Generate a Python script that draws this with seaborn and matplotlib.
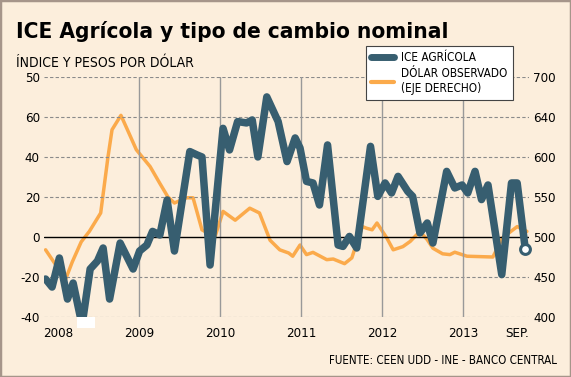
import pandas as pd
import seaborn as sns
import matplotlib
matplotlib.use('Agg')
import matplotlib.pyplot as plt
from matplotlib.patches import Rectangle
from matplotlib.lines import Line2D

# ICE agrícola (eje izquierdo), fechas en años decimales
ice_fecha = [2007.85, 2007.93, 2008.02, 2008.12, 2008.19, 2008.30, 2008.40, 2008.49, 2008.56, 2008.64,
             2008.77, 2008.93, 2009.01, 2009.10, 2009.17, 2009.26, 2009.35, 2009.44, 2009.63, 2009.72,
             2009.78, 2009.88, 2010.04, 2010.12, 2010.22, 2010.33, 2010.40, 2010.47, 2010.58, 2010.72,
             2010.83, 2010.93, 2010.99, 2011.07, 2011.15, 2011.23, 2011.33, 2011.46, 2011.52, 2011.60,
             2011.69, 2011.86, 2011.95, 2012.04, 2012.12, 2012.20, 2012.32, 2012.38, 2012.47, 2012.56,
             2012.63, 2012.80, 2012.90, 2012.99, 2013.06, 2013.15, 2013.23, 2013.31, 2013.48, 2013.60,
             2013.67, 2013.77]
ice_valor = [-21, -25, -10.5, -31, -23, -44, -16, -12, -5.5, -31,
             -3, -16, -7, -4, 2.8, 1, 18.5, -7, 42.7, 41,
             40, -14, 54.3, 43.5, 57.7, 57, 58.5, 40, 70, 57.7,
             37.7, 49.5, 44.5, 27.8, 27, 16, 46, -4, -4.7, 0.3,
             -5.5, 45.3, 20.3, 27, 22, 30.3, 22.8, 20.3, 2, 7,
             -3, 32.8, 24.5, 26, 22, 32.8, 18.7, 26, -18.8, 27,
             27, -6]

# dólar observado (eje derecho)
dolar_fecha = [2007.85, 2007.96, 2008.10, 2008.18, 2008.29, 2008.39, 2008.53, 2008.62, 2008.67, 2008.78,
               2008.86, 2008.97, 2009.14, 2009.26, 2009.36, 2009.44, 2009.59, 2009.67, 2009.78, 2009.94,
               2010.04, 2010.19, 2010.37, 2010.49, 2010.62, 2010.74, 2010.85, 2010.90, 2010.99, 2011.07,
               2011.15, 2011.32, 2011.40, 2011.54, 2011.63, 2011.70, 2011.76, 2011.81, 2011.88, 2011.94,
               2012.06, 2012.14, 2012.26, 2012.35, 2012.47, 2012.56, 2012.63, 2012.75, 2012.84, 2012.90,
               2013.05, 2013.37, 2013.49, 2013.67, 2013.79]
dolar_valor = [484, 467.5, 448, 469, 494, 507, 530, 600, 634, 652,
               634, 609, 588, 567, 550, 542.5, 549, 549, 509, 500,
               532, 521, 536, 530, 496, 484, 480, 476, 490, 478,
               480.8, 471.7, 472.5, 466.7, 474, 496, 513, 511, 509, 517.5,
               499, 484, 488, 494.5, 507, 496.7, 486, 479, 478, 481,
               476, 475, 499, 513, 507]

ticks_izq = [-40, -20, 0, 20, 40, 60, 80]
etiquetas_izq = ['-40', '-20', '0', '20', '40', '60', '50']
ticks_der = [400, 450, 500, 550, 600, 650, 700]
etiquetas_der = ['400', '450', '500', '550', '600', '640', '700']
ticks_x = [2008, 2009, 2010, 2011, 2012, 2013, 2013.67]
etiquetas_x = ['2008', '2009', '2010', '2011', '2012', '2013', 'SEP.']
lineas_anio = [2009, 2010, 2011, 2012, 2013]

fondo = '#FCEEDC'
azul = '#375E70'
naranja = '#FBAA4B'

sns.set_style('white')
plt.rcParams['font.family'] = ['DejaVu Sans']
plt.rcParams['font.stretch'] = 'condensed'
plt.rcParams['text.color'] = 'black'
plt.rcParams['xtick.color'] = 'black'
plt.rcParams['ytick.color'] = 'black'

df_ice = pd.DataFrame({'fecha': ice_fecha, 'valor': ice_valor})
df_dolar = pd.DataFrame({'fecha': dolar_fecha, 'valor': dolar_valor})

fig = plt.figure(figsize=(5.71, 3.77), dpi=100, facecolor=fondo)
ax = fig.add_axes([0.077, 0.159, 0.850, 0.637])
ax2 = ax.twinx()
ax.set_zorder(ax2.get_zorder() + 1)
ax.patch.set_visible(False)
ax2.patch.set_visible(False)

sns.lineplot(data=df_dolar, x='fecha', y='valor', ax=ax2, color=naranja, linewidth=2.5,
             estimator=None, solid_joinstyle='round', solid_capstyle='round')
sns.lineplot(data=df_ice, x='fecha', y='valor', ax=ax, color=azul, linewidth=5.4,
             estimator=None, solid_joinstyle='round', solid_capstyle='round', zorder=4)
sns.scatterplot(data=df_ice.tail(1), x='fecha', y='valor', ax=ax, s=50, color='white',
                edgecolor=azul, linewidth=2.2, zorder=5, clip_on=False)

ax.set_xlim(2007.83, 2013.82)
ax.set_ylim(-40, 80)
ax2.set_ylim(400, 700)

ax.set_yticks(ticks_izq, etiquetas_izq)
ax2.set_yticks(ticks_der, etiquetas_der)
ax.set_xticks(ticks_x, etiquetas_x)
ax.set_xlabel('')
ax.set_ylabel('')
ax2.set_ylabel('')
ax.tick_params(axis='y', length=0, pad=3, labelsize=9.5)
ax.tick_params(axis='x', length=0, pad=7.5, labelsize=9.5)
ax2.tick_params(axis='y', length=0, pad=3, labelsize=9.5)

for s in list(ax.spines.values()) + list(ax2.spines.values()):
    s.set_visible(False)

for v in ticks_izq:
    if v != 0:
        ax.axhline(v, color='#8a8a8a', linewidth=0.8, linestyle=(0, (3, 2)), zorder=1)
ax.axhline(0, color='black', linewidth=1.0, zorder=2)
for a in lineas_anio:
    ax.axvline(a, color='#999999', linewidth=1.0, zorder=1)

# parche blanco bajo 2008
ax.add_patch(Rectangle((2008.235, -45.5), 0.222, 5.5, facecolor='white', edgecolor='none',
                       clip_on=False, zorder=6))

handles = [Line2D([], [], color=azul, linewidth=5, solid_capstyle='round'),
           Line2D([], [], color=naranja, linewidth=3)]
leg = fig.legend(handles, ['ICE AGRÍCOLA', 'DÓLAR OBSERVADO\n(EJE DERECHO)'],
                 loc='upper left', bbox_to_anchor=(366 / 571, 1 - 46 / 377),
                 frameon=True, fancybox=False, framealpha=1, edgecolor='#444444',
                 fontsize=8.5, handlelength=2.0, handletextpad=0.6, borderpad=0.4,
                 labelspacing=0.3, borderaxespad=0)
leg.get_frame().set_linewidth(0.8)

fig.text(16 / 571, 1 - 38 / 377, 'ICE Agrícola y tipo de cambio nominal', fontsize=16.2,
         fontweight='bold', va='baseline', ha='left')
fig.text(16 / 571, 1 - 67 / 377, 'ÍNDICE Y PESOS POR DÓLAR', fontsize=10,
         va='baseline', ha='left')
fig.text(557 / 571, 1 - 361 / 377, 'FUENTE: CEEN UDD - INE - BANCO CENTRAL', fontsize=8.3,
         va='center', ha='right')

fig.add_artist(Rectangle((0, 0), 1, 1, transform=fig.transFigure, fill=False,
                         edgecolor='#A6958A', linewidth=2.5))

fig.savefig('out.png', dpi=100, facecolor=fondo)
